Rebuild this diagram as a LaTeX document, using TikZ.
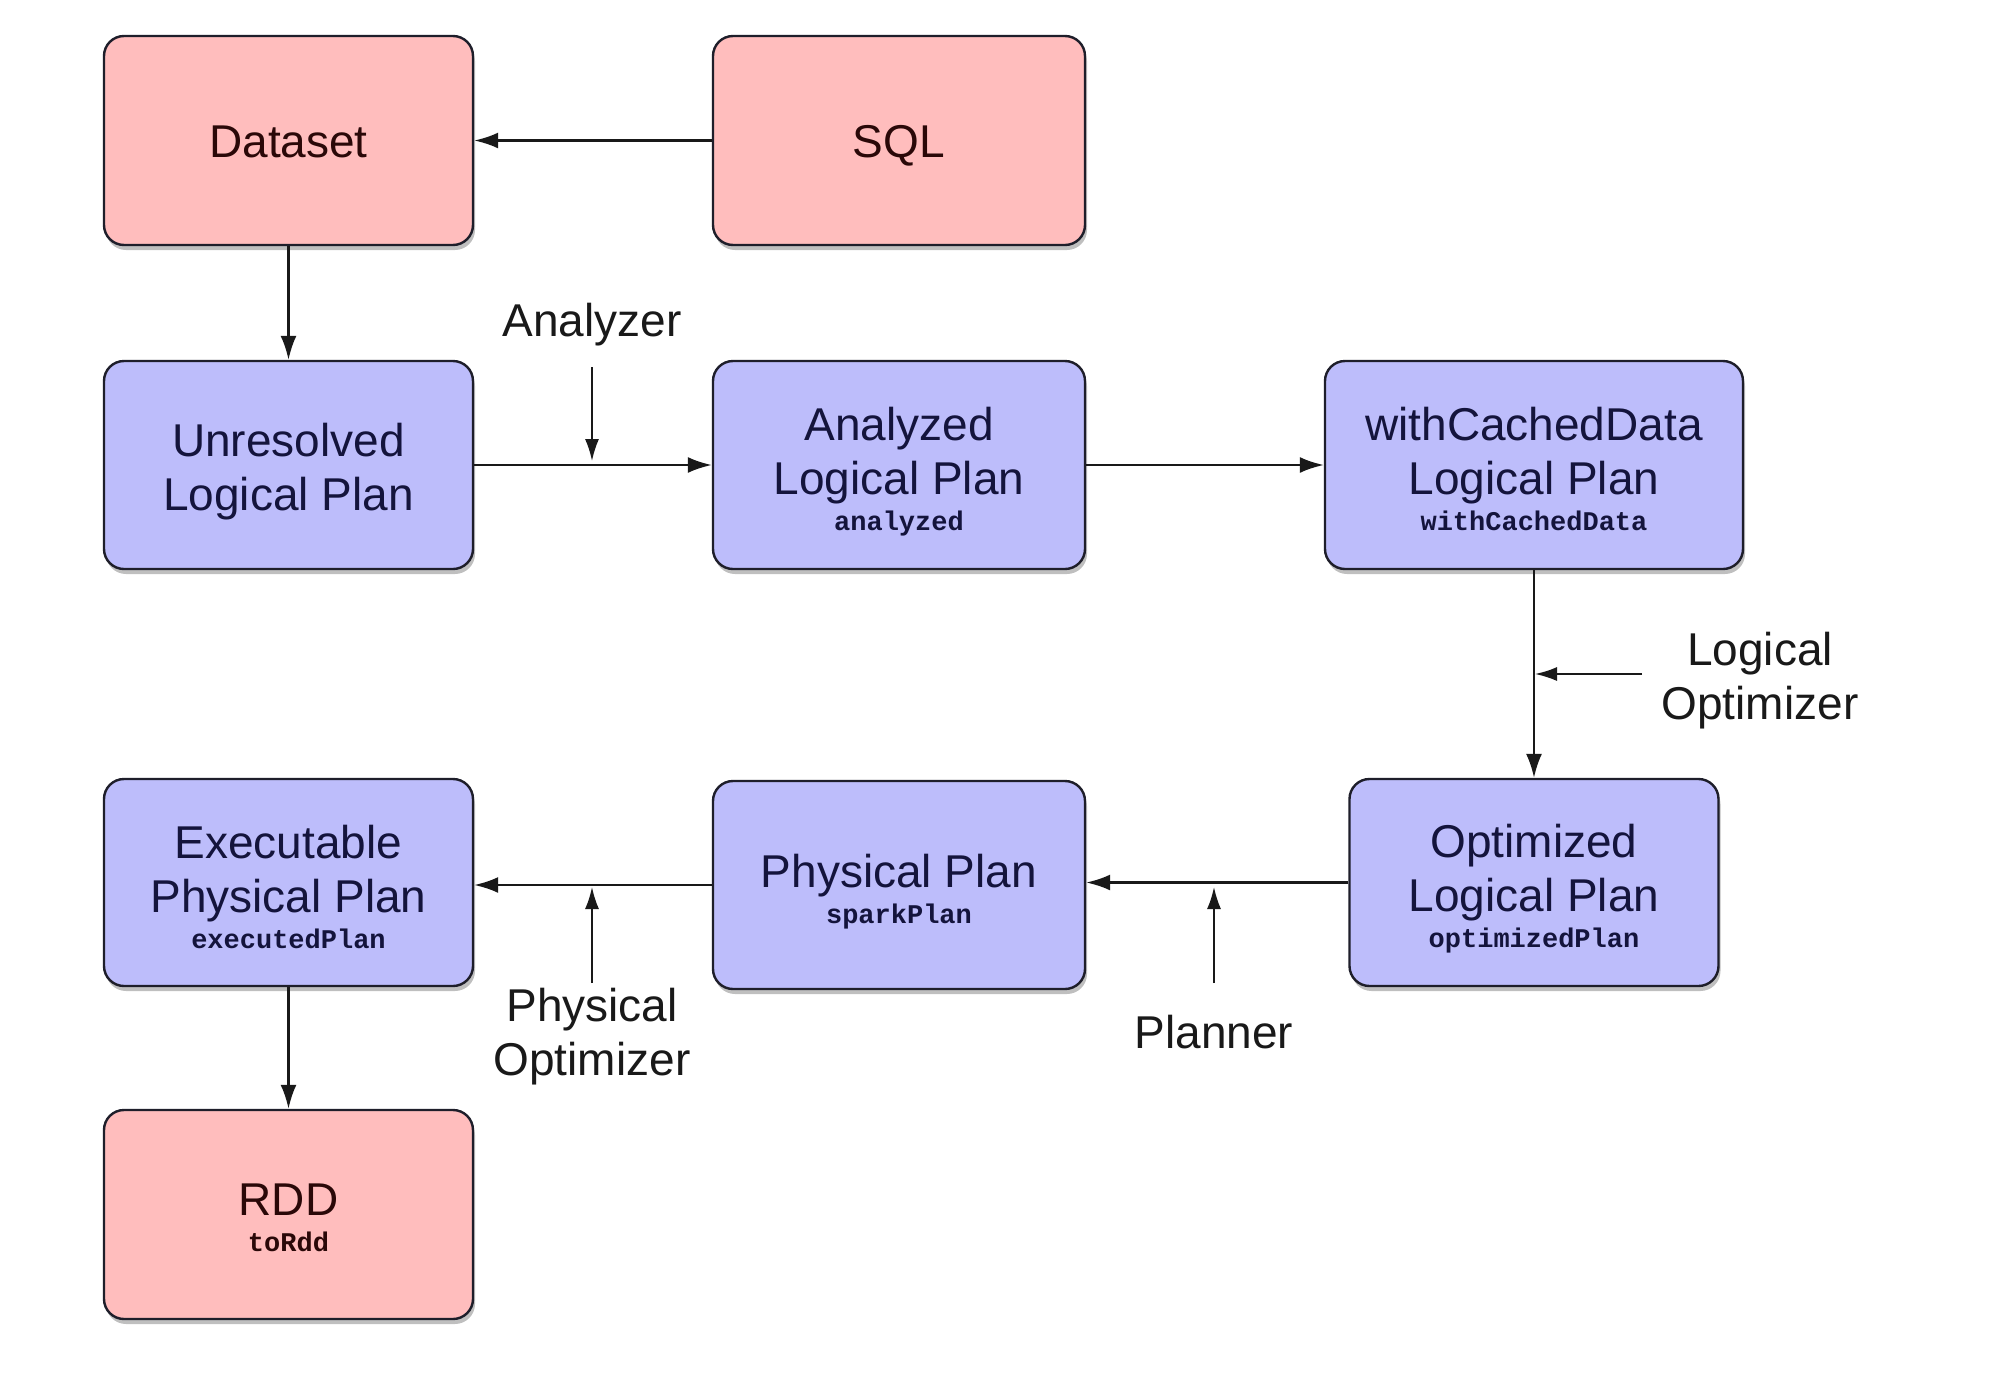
\documentclass[tikz,border=0pt]{standalone}
\usepackage{fontspec}
\setmainfont{Liberation Sans}
\setmonofont{Liberation Mono}
\usetikzlibrary{arrows.meta,shadows}
\definecolor{pinkfill}{HTML}{FFBDBD}
\definecolor{bluefill}{HTML}{BDBDFB}
\definecolor{pinktext}{HTML}{2A0808}
\definecolor{bluetext}{HTML}{14143C}
\definecolor{edgecol}{HTML}{1E1E2A}
\newcommand{\codetxt}[1]{{\fontsize{27}{30}\selectfont\ttfamily\bfseries #1}}
\newcommand{\btext}[2][9pt]{\raisebox{-#1}[\height][\depth]{\begin{tabular}{@{}c@{}}#2\end{tabular}}}
\tikzset{
  box/.style={draw=edgecol, line width=2.4pt, rounded corners=20pt, align=center,
    font=\fontsize{46}{54}\selectfont, inner sep=0pt,
    drop shadow={shadow xshift=2pt, shadow yshift=-5pt, fill=black, opacity=0.25}},
  pinkbox/.style={box, fill=pinkfill, text=pinktext},
  bluebox/.style={box, fill=bluefill, text=bluetext},
  conn/.style={line width=2.3pt, draw=black!90, -{Latex[length=24pt,width=16pt]}},
  pointer/.style={line width=1.9pt, draw=black!90, -{Latex[length=22pt,width=14pt]}},
  lbl/.style={align=center, font=\fontsize{46}{54}\selectfont, text=black!90, inner sep=0pt}
}
\begin{document}
\begin{tikzpicture}[x=1pt,y=-1pt]
\useasboundingbox[fill=white] (0,0) rectangle (2008,1374);
% boxes
\node[pinkbox, minimum width=369pt, minimum height=209pt] (dataset) at (288.5,140.5) {\btext[6pt]{Dataset}};
\node[pinkbox, minimum width=372pt, minimum height=209pt] (sql) at (899,140.5) {\btext[6pt]{SQL}};
\node[bluebox, minimum width=369pt, minimum height=208pt] (unres) at (288.5,465) {\btext[8pt]{Unresolved\\Logical Plan}};
\node[bluebox, minimum width=372pt, minimum height=208pt] (analyzed) at (899,465) {\btext[9.5pt]{Analyzed\\Logical Plan\\[-18pt]\codetxt{analyzed}}};
\node[bluebox, minimum width=418pt, minimum height=208pt] (cached) at (1534,465) {\btext[9.5pt]{withCachedData\\Logical Plan\\[-18pt]\codetxt{withCachedData}}};
\node[bluebox, minimum width=369pt, minimum height=207pt] (optim) at (1534,882.5) {\btext[9.5pt]{Optimized\\Logical Plan\\[-18pt]\codetxt{optimizedPlan}}};
\node[bluebox, minimum width=372pt, minimum height=208pt] (phys) at (899,885) {\btext[9.5pt]{Physical Plan\\[-18pt]\codetxt{sparkPlan}}};
\node[bluebox, minimum width=369pt, minimum height=207pt] (exec) at (288.5,882.5) {\btext[10pt]{Executable\\Physical Plan\\[-18pt]\codetxt{executedPlan}}};
\node[pinkbox, minimum width=369pt, minimum height=209pt] (rdd) at (288.5,1214.5) {\btext[8pt]{RDD\\[-18pt]\codetxt{toRdd}}};
% labels
\node[lbl] (analyzer) at (592,325) {Analyzer};
\node[lbl] (logopt) at (1760,681) {Logical\\Optimizer};
\node[lbl] (planner) at (1214,1032) {Planner};
\node[lbl] (physopt) at (592,1037) {Physical\\Optimizer};
% main connectors
\draw[conn] (sql.west) -- (dataset.east);
\draw[conn] (dataset.south) -- (unres.north);
\draw[conn] (unres.east) -- (analyzed.west);
\draw[conn] (analyzed.east) -- (cached.west);
\draw[conn] (cached.south) -- (optim.north);
\draw[conn] (optim.west) -- (optim.west -| phys.east);
\draw[conn] (phys.west) -- (phys.west -| exec.east);
\draw[conn] (exec.south) -- (rdd.north);
% label pointers
\coordinate (a1) at (592,367); \coordinate (a2) at (592,461);
\draw[pointer] (a1) -- (a2);
\coordinate (l1) at (1642,674); \coordinate (l2) at (1535,674);
\draw[pointer] (l1) -- (l2);
\coordinate (p1) at (1214,983); \coordinate (p2) at (1214,887);
\draw[pointer] (p1) -- (p2);
\coordinate (q1) at (592,983); \coordinate (q2) at (592,887);
\draw[pointer] (q1) -- (q2);
\end{tikzpicture}
\end{document}
